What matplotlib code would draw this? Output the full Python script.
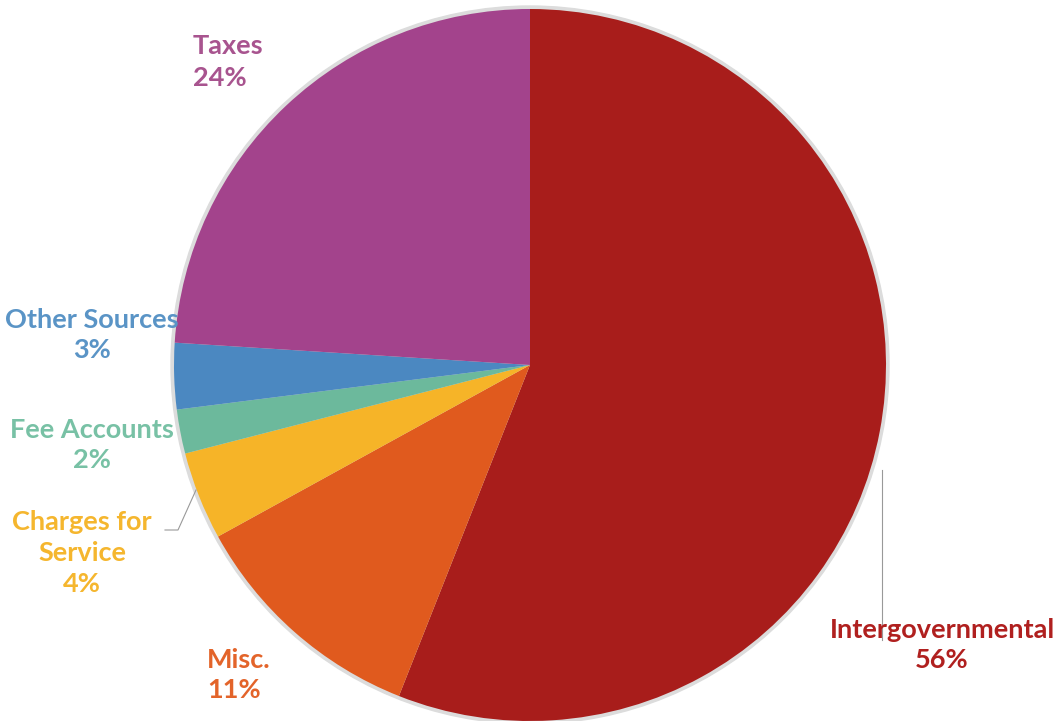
import matplotlib
matplotlib.use("Agg")
import matplotlib.pyplot as plt
from matplotlib.patches import Circle

# data
labels = ["Intergovernmental", "Misc.", "Charges for\nService", "Fee Accounts", "Other Sources", "Taxes"]
shares = [56, 11, 4, 2, 3, 24]
slice_colors = ["#A81D1B", "#E05A1E", "#F6B428", "#6CB99C", "#4B88C1", "#A3438C"]
text_colors = ["#B0201F", "#E3642A", "#F5B62E", "#78C1A5", "#5A94C6", "#A8548F"]

W, H = 1064, 721
fig = plt.figure(figsize=(W / 100, H / 100), dpi=100)
ax = fig.add_axes([0, 0, 1, 1])

cx, cy, r = 530, H - 365, 356

# soft shadow ring around the pie
ax.add_patch(Circle((cx, cy), r + 3, color="#dcdcdc", zorder=0))

ax.pie(shares, colors=slice_colors, startangle=90, counterclock=False,
       center=(cx, cy), radius=r, frame=True,
       wedgeprops=dict(linewidth=0))
ax.set_xlim(0, W)
ax.set_ylim(0, H)
ax.set_aspect("equal")
ax.axis("off")

# label positions (pixel coords, y from top), alignment
spots = [(942, 645, "center"), (207, 675, "left"), (82, 553, "center"),
         (92, 445, "center"), (92, 335, "center"), (193, 62, "left")]

for lab, val, col, (x, y, ha) in zip(labels, shares, text_colors, spots):
    ax.text(x, H - y, f"{lab}\n{val}%", color=col, ha=ha, va="center",
            multialignment="center" if ha == "center" else "left",
            fontsize=19.5, fontweight="bold", family="Lato", linespacing=1.35)

# leader lines
ax.plot([882, 882], [H - 470, H - 640], color="#999999", lw=0.8)
ax.plot([196, 178, 165], [H - 490, H - 530, H - 530], color="#999999", lw=0.8)

fig.savefig("out.png", dpi=100)
